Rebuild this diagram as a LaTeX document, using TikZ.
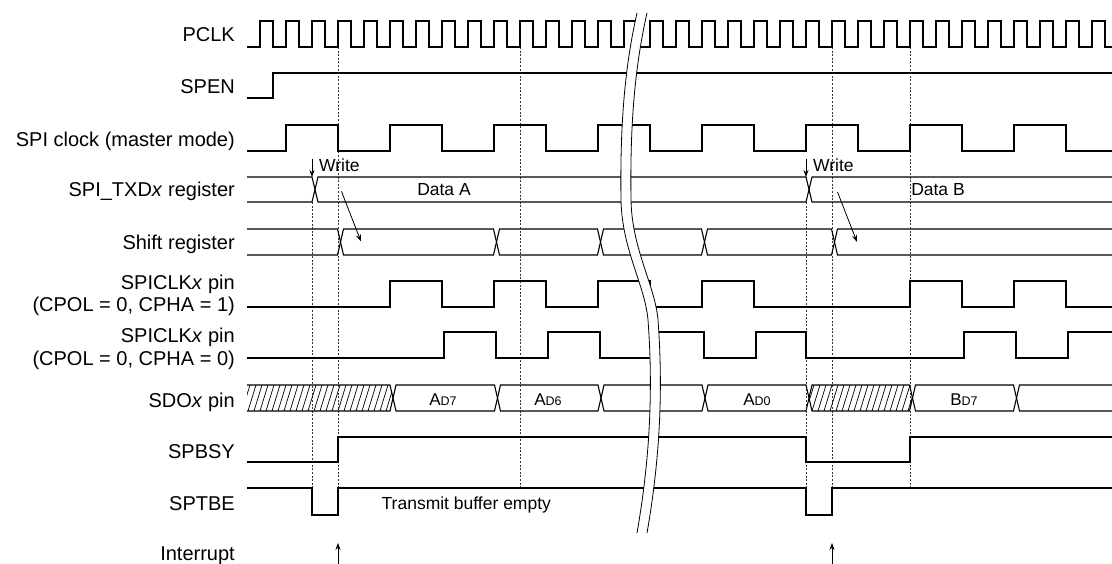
\documentclass[tikz,border=0pt]{standalone}
\usepackage{fontspec}
\setmainfont{Liberation Sans}
\usetikzlibrary{arrows.meta}
\tikzset{
  sig/.style={line width=1.1pt, black, line join=miter},
  guide/.style={line width=0.7pt, black!80, dash pattern=on 2pt off 1.6pt},
  lbl/.style={anchor=base east, inner sep=0pt, font=\fontsize{20}{22}\selectfont},
  txt/.style={inner sep=0pt, font=\fontsize{17.5}{20}\selectfont},
  ptr/.style={line width=0.8pt, -{Stealth[length=7pt,width=5pt]}},
  brk/.style={line width=0.8pt, black},
  hatchln/.style={line width=0.7pt, black}
}
\newcommand\busseg[4]{\draw[sig] (#1,{(#3+#4)/2}) -- ({#1+3},#3) -- ({#2-3},#3) -- (#2,{(#3+#4)/2}) -- ({#2-3},#4) -- ({#1+3},#4) -- cycle;}
\newcommand\busleft[4]{\draw[sig] (#1,#3) -- ({#2-3},#3) -- (#2,{(#3+#4)/2}) -- ({#2-3},#4) -- (#1,#4);}
\newcommand\busright[4]{\draw[sig] (#2,#3) -- ({#1+3},#3) -- (#1,{(#3+#4)/2}) -- ({#1+3},#4) -- (#2,#4);}
\newcommand\subtxt[3]{\node[txt, anchor=base] (#1) at (#2,405) {\fontsize{17}{20}\selectfont #3};}
\begin{document}
\begin{tikzpicture}[x=1pt,y=-1pt]
\useasboundingbox (0,0) rectangle (1112,564);

% guides
\foreach \x/\ya in {312/202, 338/47, 520/47, 806/202, 832/47, 910/47}
  \draw[guide] (\x,\ya) -- (\x,488);

% labels
\node[lbl] (lpclk) at (235,42) {PCLK};
\node[lbl] (lspen) at (235,94) {SPEN};
\node[lbl] (lspiclk) at (235,147) {SPI clock (master mode)};
\node[lbl] (ltxd) at (235,197) {SPI\_TXD\textit{x} register};
\node[lbl] (lshift) at (235,250) {Shift register};
\node[lbl] (lpin1a) at (235,290) {SPICLK\textit{x} pin};
\node[lbl] (lpin1b) at (235,312) {(CPOL = 0, CPHA = 1)};
\node[lbl] (lpin0a) at (235,342) {SPICLK\textit{x} pin};
\node[lbl] (lpin0b) at (235,366) {(CPOL = 0, CPHA = 0)};
\node[lbl] (lsdo) at (235,407) {SDO\textit{x} pin};
\node[lbl] (lbsy) at (235,458) {SPBSY};
\node[lbl] (ltbe) at (235,510) {SPTBE};
\node[lbl] (lint) at (235,560) {Interrupt};

% PCLK
\draw[sig] (247,47) \foreach \k in {0,...,32}{ -- ({260+26*\k},47) -- ({260+26*\k},21) -- ({273+26*\k},21) -- ({273+26*\k},47)} -- (1112,47);
% SPEN
\draw[sig] (247,98) -- (273,98) -- (273,73) -- (1112,73);
% SPI clock
\draw[sig] (247,151) \foreach \k in {0,...,7}{ -- ({286+104*\k},151) -- ({286+104*\k},125) -- ({338+104*\k},125) -- ({338+104*\k},151)} -- (1112,151);

% SPI_TXDx register
\busleft{247}{315}{177}{202}
\busseg{315}{809}{177}{202}
\busright{809}{1112}{177}{202}
\node[txt, anchor=base] (dataA) at (444,196) {Data A};
\node[txt, anchor=base] (dataB) at (938,196) {Data B};
\coordinate (w1t) at (312,159);
\coordinate (w1b) at (312,177);
\coordinate (w2t) at (806,159);
\coordinate (w2b) at (806,177);
\draw[ptr] (w1t) -- (w1b);
\draw[ptr] (w2t) -- (w2b);
\node[txt, anchor=base west] (wr1) at (319,171.5) {Write};
\node[txt, anchor=base west] (wr2) at (813,171.5) {Write};

% Shift register
\busleft{247}{340.5}{229}{255}
\busseg{340.5}{496.5}{229}{255}
\busseg{496.5}{600.5}{229}{255}
\busseg{600.5}{704.5}{229}{255}
\busseg{704.5}{834.5}{229}{255}
\busright{834.5}{1112}{229}{255}
\coordinate (s1a) at (341.5,191.5);
\coordinate (s1b) at (361,241.5);
\coordinate (s2a) at (837.5,192);
\coordinate (s2b) at (857,242);
\draw[ptr] (s1a) -- (s1b);
\draw[ptr] (s2a) -- (s2b);

% SPICLKx CPHA=1
\draw[sig] (247,307) \foreach \a/\b in {390/442, 494/546, 598/650, 702/754, 910/962, 1014/1066}{ -- (\a,307) -- (\a,281) -- (\b,281) -- (\b,307)} -- (1112,307);
% SPICLKx CPHA=0
\draw[sig] (247,358) \foreach \a/\b in {444/496, 548/600, 652/704, 756/806, 964/1016}{ -- (\a,358) -- (\a,332) -- (\b,332) -- (\b,358)} -- (1068,358) -- (1068,332) -- (1112,332);

% SDOx pin
\begin{scope}
  \clip (247,385) -- (390,385) -- (393,398) -- (390,411) -- (247,411) -- cycle;
  \foreach \i in {236,242,...,400} \draw[hatchln] (\i,411) -- ({\i+8},385);
\end{scope}
\begin{scope}
  \clip (809,398) -- (812,385) -- (909.5,385) -- (912.5,398) -- (909.5,411) -- (812,411) -- cycle;
  \foreach \i in {800,806,...,920} \draw[hatchln] (\i,411) -- ({\i+8},385);
\end{scope}
\busleft{247}{393}{385}{411}
\busseg{393}{497.5}{385}{411}
\busseg{497.5}{601}{385}{411}
\busseg{601}{705}{385}{411}
\busseg{705}{809}{385}{411}
\busseg{809}{912.5}{385}{411}
\busseg{912.5}{1016.5}{385}{411}
\busright{1016.5}{1112}{385}{411}
\subtxt{ad7}{443}{A{\fontsize{12.5}{14}\selectfont D7}}
\subtxt{ad6}{548}{A{\fontsize{12.5}{14}\selectfont D6}}
\subtxt{ad0}{757}{A{\fontsize{12.5}{14}\selectfont D0}}
\subtxt{bd7}{964}{B{\fontsize{12.5}{14}\selectfont D7}}

% SPBSY
\draw[sig] (247,462) -- (338,462) -- (338,437) -- (806,437) -- (806,462) -- (910,462) -- (910,437) -- (1112,437);
% SPTBE
\draw[sig] (247,488) -- (312,488) -- (312,515) -- (338,515) -- (338,488) -- (806,488) -- (806,515) -- (832,515) -- (832,488) -- (1112,488);
\node[txt, anchor=base west] (tbe) at (381.5,509) {Transmit buffer empty};

% Interrupt arrows
\coordinate (i1b) at (338,564);
\coordinate (i1t) at (338,543);
\coordinate (i2b) at (832,564);
\coordinate (i2t) at (832,543);
\draw[ptr] (i1b) -- (i1t);
\draw[ptr] (i2b) -- (i2t);

% break
\fill[white] (637,13) .. controls (624,70) and (620,130) .. (621,200) .. controls (622,250) and (645,285) .. (648,320) .. controls (654,400) and (648,470) .. (637,533)
  -- (647,533) .. controls (658,470) and (664,400) .. (658,320) .. controls (655,285) and (632,250) .. (631,200) .. controls (630,130) and (634,70) .. (647,13) -- cycle;
\draw[brk] (637,13) .. controls (624,70) and (620,130) .. (621,200) .. controls (622,250) and (645,285) .. (648,320) .. controls (654,400) and (648,470) .. (637,533);
\draw[brk] (647,13) .. controls (634,70) and (630,130) .. (631,200) .. controls (632,250) and (655,285) .. (658,320) .. controls (664,400) and (658,470) .. (647,533);
\end{tikzpicture}
\end{document}
